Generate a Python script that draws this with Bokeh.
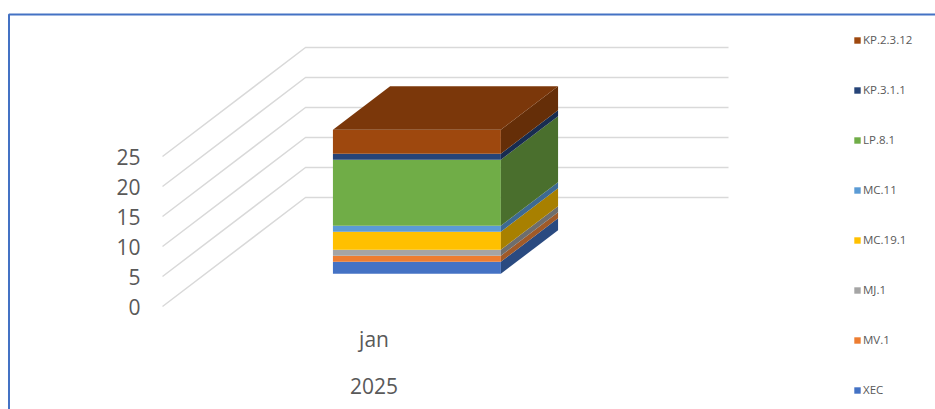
from bokeh.plotting import figure
from bokeh.models import Range1d, FixedTicker, Legend, LegendItem
from bokeh.core.properties import value
from bokeh.embed import file_html
from bokeh.resources import INLINE

# ---- data ----
series = ["XEC", "MV.1", "MJ.1", "MC.19.1", "MC.11", "LP.8.1", "KP.3.1.1", "KP.2.3.12"]
values = [2, 1, 1, 3, 1, 11, 1, 4]
month = "jan"
year = "2025"
ticks = [0, 5, 10, 15, 20, 25]

# ---- style ----
front = ["#4472C4", "#ED7D31", "#A5A5A5", "#FFC000", "#5B9BD5", "#70AD47", "#264478", "#9E480E"]
side = ["#2A4A80", "#A05A28", "#6E6E6E", "#A88000", "#3D6A92", "#4A6F2D", "#182C50", "#652E08"]
top_col = "#7B370A"
grid_col = "#D9D9D9"
txt_col = "#595959"
FONT = "Open Sans"

W, H = 935, 409
PX = 6.0                    # pixels per value unit
ORIGIN_X, ORIGIN_Y = 162, 306   # where value 0 meets the front-left of the floor
wall_w = 423 / PX
depth_x, depth_y = 143 / PX, 109 / PX
bar_w, bar_d = 0.397, 0.4     # fractions of category width / floor depth


def proj(cat, val, depth):
    return cat * wall_w + depth * depth_x, val + depth * depth_y


p = figure(width=W, height=H, output_backend="svg", toolbar_location=None,
           x_range=Range1d(-ORIGIN_X / PX, (W - ORIGIN_X) / PX),
           y_range=Range1d(-(H - ORIGIN_Y) / PX, ORIGIN_Y / PX),
           min_border=0, min_border_left=0, min_border_right=0,
           min_border_top=0, min_border_bottom=0, outline_line_color=None)
p.xgrid.visible = False
p.ygrid.visible = False
p.xaxis.visible = False

# value axis
ax = p.yaxis[0]
ax.ticker = FixedTicker(ticks=ticks)
ax.fixed_location = -12 / PX
ax.axis_line_color = None
ax.major_tick_line_color = None
ax.minor_tick_line_color = None
ax.major_label_standoff = 4
ax.major_label_text_font = FONT
ax.major_label_text_font_size = "21px"
ax.major_label_text_color = txt_col

# gridlines: floor-side wall then back wall
for t in ticks:
    pts = [proj(0, t, 0), proj(0, t, 1), proj(1, t, 1)]
    p.line([a for a, _ in pts], [b for _, b in pts], line_color=grid_col, line_width=1.5)

# stacked 3D column
c0, c1 = 0.5 - bar_w / 2, 0.5 + bar_w / 2
d0, d1 = 0.5 - bar_d / 2, 0.5 + bar_d / 2
base = 0
items = []
for name, v, fc, sc in zip(series, values, front, side):
    t = base + v
    xa, ya = proj(c0, base, d0)
    xb, yb = proj(c1, t, d0)
    r = p.quad(left=[xa], right=[xb], bottom=[ya], top=[yb], fill_color=fc, line_color=None)
    s = [proj(c1, base, d0), proj(c1, base, d1), proj(c1, t, d1), proj(c1, t, d0)]
    p.patch([a for a, _ in s], [b for _, b in s], fill_color=sc, line_color=None)
    items.append(LegendItem(label=name, renderers=[r]))
    base = t
s = [proj(c0, base, d0), proj(c1, base, d0), proj(c1, base, d1), proj(c0, base, d1)]
p.patch([a for a, _ in s], [b for _, b in s], fill_color=top_col, line_color=None)

# category labels
cx, _ = proj(0.5, 0, 0)
p.text(x=[cx], y=[-32 / PX], text=[month], text_font=value(FONT), text_font_size="21px",
       text_color=txt_col, text_align="center", text_baseline="middle")
p.text(x=[cx], y=[-79 / PX], text=[year], text_font=value(FONT), text_font_size="21px",
       text_color=txt_col, text_align="center", text_baseline="middle")

# chart frame (top and left edges)
left_x = (8.5 - ORIGIN_X) / PX
top_y = (ORIGIN_Y - 14) / PX
p.line([left_x, left_x, (W - ORIGIN_X) / PX], [-(H - ORIGIN_Y) / PX, top_y, top_y],
       line_color="#4472C4", line_width=2)

legend = Legend(items=items[::-1], location=(853, 12), orientation="vertical",
                background_fill_alpha=0, border_line_color=None, padding=0, margin=0,
                spacing=35, glyph_width=8, glyph_height=8, label_height=8, label_width=10,
                label_standoff=2, label_text_font=FONT, label_text_font_size="11.5px",
                label_text_color=txt_col, label_text_baseline="middle")
p.add_layout(legend, "center")

open("out.html", "w").write(file_html(p, INLINE))
